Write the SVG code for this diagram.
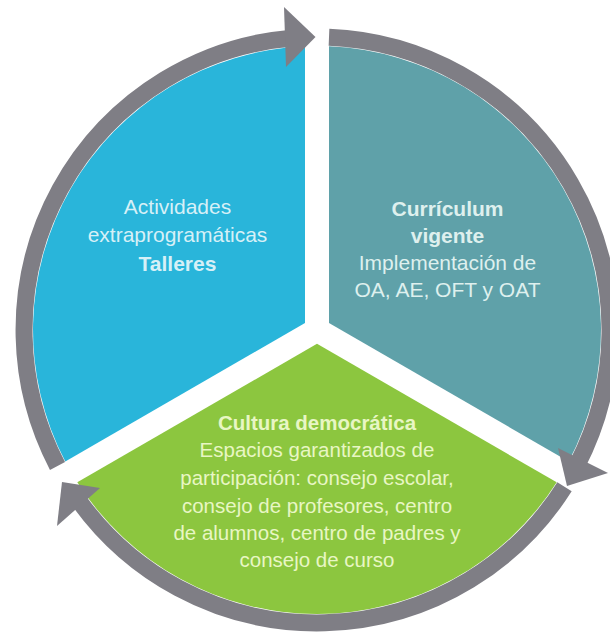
<svg xmlns="http://www.w3.org/2000/svg" width="610" height="634" viewBox="0 0 610 634">
<style>
  .txt{font-family:"Liberation Sans",Arial,sans-serif;text-anchor:middle}
  .b{font-weight:bold}
  .ring{fill:none;stroke:#7f7e85;stroke-width:17;stroke-linecap:butt}
  .head{fill:#7f7e85}
</style>
<rect width="610" height="634" fill="#ffffff"/>
<g id="node-actividades">
  <path d="M305,323.07 L65.3,461.5 A284,284 0 0 1 305,46.25 Z" fill="#29b5da"/>
  <g class="txt" fill="#d6f0f7" font-size="21">
    <text x="177.5" y="213.5">Actividades</text>
    <text x="177.5" y="242">extraprogramáticas</text>
    <text x="177.5" y="270.5" class="b">Talleres</text>
  </g>
</g>
<g id="node-curriculum">
  <path d="M329,323.07 L329,46.25 A284,284 0 0 1 568.7,461.5 Z" fill="#5fa1a9"/>
  <g class="txt" fill="#def0ee" font-size="21">
    <text x="447.5" y="216" class="b">Currículum</text>
    <text x="447.5" y="242.5" class="b">vigente</text>
    <text x="447.5" y="269.5">Implementación de</text>
    <text x="447.5" y="296.5">OA, AE, OFT y OAT</text>
  </g>
</g>
<g id="node-cultura">
  <path d="M317,343.86 L556.7,482.26 A284,284 0 0 1 77.3,482.26 Z" fill="#8cc63f"/>
  <g class="txt" fill="#e8f6c4" font-size="20.5">
    <text x="317" y="430" class="b">Cultura democrática</text>
    <text x="317" y="457">Espacios garantizados de</text>
    <text x="317" y="485">participación: consejo escolar,</text>
    <text x="317" y="512.5">consejo de profesores, centro</text>
    <text x="317" y="540">de alumnos, centro de padres y</text>
    <text x="317" y="567">consejo de curso</text>
  </g>
</g>
<g id="connectors">
  <path class="ring" d="M57.5,465.96 A293,293 0 0 1 291.46,38.12"/>
  <polygon class="head" points="284,7 315.5,37 286,67"/>
  <path class="ring" d="M329,37.25 A293,293 0 0 1 576.9,465.3"/>
  <polygon class="head" points="558,448 608,473 567,486"/>
  <path class="ring" d="M564.5,486.8 A293,293 0 0 1 78.5,500.1"/>
  <polygon class="head" points="100,488 57,526 62,482"/>
</g>
</svg>
